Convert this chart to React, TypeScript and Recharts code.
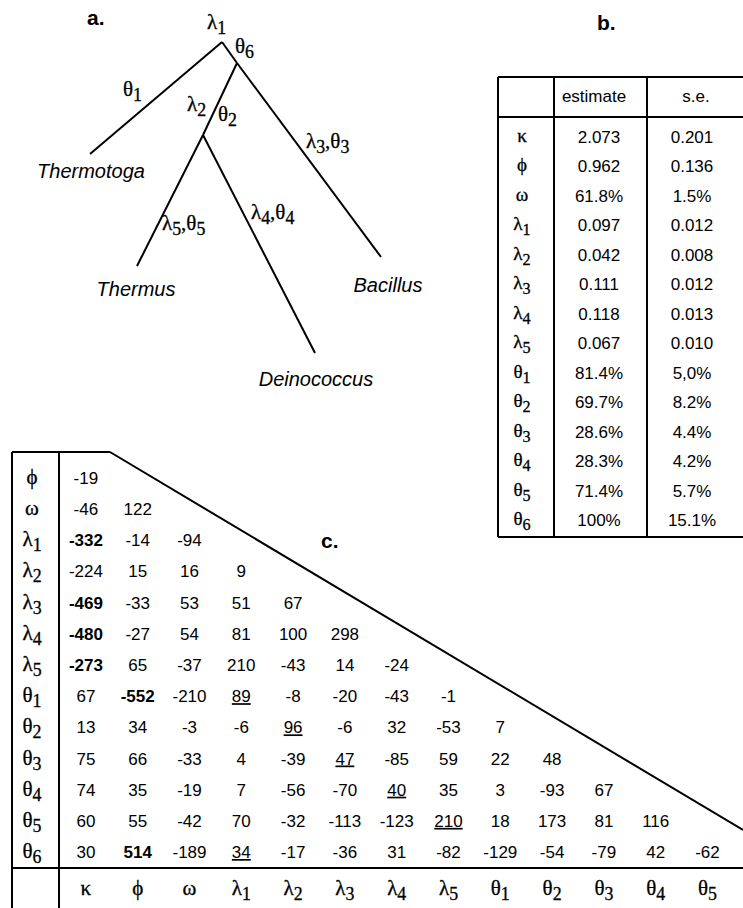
import React from "react";
import { ScatterChart, Scatter, XAxis, YAxis } from "recharts";

const W = 743;
const H = 908;
const SANS = "'Liberation Sans', Arial, Helvetica, sans-serif";
const SERIF = "'Liberation Serif', 'Times New Roman', serif";

// ---- a. tree (node positions in the tree's own drawing units)
const treeNodes = ["root", "n6", "n2", "Thermotoga", "Thermus", "Deinococcus", "Bacillus"];
const treeNodeX = [222, 237, 203, 90, 137, 315, 381];
const treeNodeY = [42, 63, 135, 154, 266, 353, 257];
const treeEdges = [
  ["root", "Thermotoga"],
  ["root", "n6"],
  ["n6", "Bacillus"],
  ["n6", "n2"],
  ["n2", "Thermus"],
  ["n2", "Deinococcus"],
];
const taxa = ["Thermotoga", "Thermus", "Deinococcus", "Bacillus"];
const branchLabels = ["λ1", "θ6", "θ1", "λ2", "θ2", "λ3,θ3", "λ4,θ4", "λ5,θ5"];

// ---- b. estimates table
const paramsB = ["κ", "ϕ", "ω", "λ1", "λ2", "λ3", "λ4", "λ5", "θ1", "θ2", "θ3", "θ4", "θ5", "θ6"];
const tableBColumns = ["estimate", "s.e."];
const estimates = ["2.073", "0.962", "61.8%", "0.097", "0.042", "0.111", "0.118", "0.067", "81.4%", "69.7%", "28.6%", "28.3%", "71.4%", "100%"];
const standardErrors = ["0.201", "0.136", "1.5%", "0.012", "0.008", "0.012", "0.013", "0.010", "5,0%", "8.2%", "4.4%", "4.2%", "5.7%", "15.1%"];

// ---- c. correlation matrix (lower triangle)
const corrRows = ["ϕ", "ω", "λ1", "λ2", "λ3", "λ4", "λ5", "θ1", "θ2", "θ3", "θ4", "θ5", "θ6"];
const corrCols = ["κ", "ϕ", "ω", "λ1", "λ2", "λ3", "λ4", "λ5", "θ1", "θ2", "θ3", "θ4", "θ5"];
const corrValues = [
  [-19],
  [-46, 122],
  [-332, -14, -94],
  [-224, 15, 16, 9],
  [-469, -33, 53, 51, 67],
  [-480, -27, 54, 81, 100, 298],
  [-273, 65, -37, 210, -43, 14, -24],
  [67, -552, -210, 89, -8, -20, -43, -1],
  [13, 34, -3, -6, 96, -6, 32, -53, 7],
  [75, 66, -33, 4, -39, 47, -85, 59, 22, 48],
  [74, 35, -19, 7, -56, -70, 40, 35, 3, -93, 67],
  [60, 55, -42, 70, -32, -113, -123, 210, 18, 173, 81, 116],
  [30, 514, -189, 34, -17, -36, 31, -82, -129, -54, -79, 42, -62],
];
const boldCells = [[2, 0], [4, 0], [5, 0], [6, 0], [7, 1], [12, 1]];
const underlinedCells = [[7, 3], [8, 4], [9, 5], [10, 6], [11, 7], [12, 3]];

// layout of annotations in panel a
const BRANCH_LABEL_POS: Record<string, [number, number]> = {
  "λ1": [207, 29],
  "θ6": [235, 53],
  "θ1": [123, 96],
  "λ2": [187, 111],
  "θ2": [218, 121],
  "λ3,θ3": [306, 148],
  "λ4,θ4": [251, 219],
  "λ5,θ5": [162, 230],
};
const TAXON_OFFSET: Record<string, [number, number]> = {
  Thermotoga: [1, 24],
  Thermus: [-1, 30],
  Deinococcus: [1, 33],
  Bacillus: [7, 35],
};

const Greek = ({ text, x, y, size = 17, anchor = "middle" }: any) => {
  const groups: { s: string; sub: boolean }[] = [];
  for (const ch of text) {
    const sub = /[0-9]/.test(ch);
    const last = groups[groups.length - 1];
    if (last && last.sub === sub) last.s += ch;
    else groups.push({ s: ch, sub });
  }
  const shift = Math.round(size * 0.25);
  let cur = 0;
  return (
    <text x={x} y={y} textAnchor={anchor} fontFamily={SERIF} fontSize={size} fill="#000" stroke="#000" strokeWidth={0.3}>
      {groups.map((g, i) => {
        const target = g.sub ? shift : 0;
        const dy = target - cur;
        cur = target;
        return (
          <tspan key={i} dy={dy || undefined} fontSize={g.sub ? size * 0.85 : undefined}>
            {g.s}
          </tspan>
        );
      })}
    </text>
  );
};

const nothing = () => <g />;
const nodeIdx = (id: string) => treeNodes.indexOf(id);

const TreePanel = () => {
  const labelData = branchLabels.map((l) => ({ x: BRANCH_LABEL_POS[l][0], y: BRANCH_LABEL_POS[l][1], label: l }));
  const taxaData = taxa.map((t) => ({ x: treeNodeX[nodeIdx(t)], y: treeNodeY[nodeIdx(t)], name: t }));
  return (
    <ScatterChart width={W} height={H} margin={{ top: 0, right: 0, bottom: 0, left: 0 }}>
      <XAxis type="number" dataKey="x" domain={[0, W]} hide height={0} />
      <YAxis type="number" dataKey="y" domain={[0, H]} reversed hide width={0} />
      {treeEdges.map(([a, b]) => (
        <Scatter
          key={a + b}
          data={[
            { x: treeNodeX[nodeIdx(a)], y: treeNodeY[nodeIdx(a)] },
            { x: treeNodeX[nodeIdx(b)], y: treeNodeY[nodeIdx(b)] },
          ]}
          line={{ stroke: "#000", strokeWidth: 2 }}
          shape={nothing}
          isAnimationActive={false}
        />
      ))}
      <Scatter
        data={labelData}
        isAnimationActive={false}
        shape={(p: any) => <Greek text={p.payload.label} x={p.cx} y={p.cy} size={21} anchor="start" />}
      />
      <Scatter
        data={taxaData}
        isAnimationActive={false}
        shape={(p: any) => {
          const off = TAXON_OFFSET[p.payload.name];
          return (
            <text x={p.cx + off[0]} y={p.cy + off[1]} textAnchor="middle" fontFamily={SANS} fontStyle="italic" fontSize={20} fill="#000">
              {p.payload.name}
            </text>
          );
        }}
      />
    </ScatterChart>
  );
};

const TablePanel = () => {
  const cells = paramsB.flatMap((_, r) => [
    { col: 0, row: r, text: estimates[r] },
    { col: 1, row: r, text: standardErrors[r] },
  ]);
  return (
    <ScatterChart width={W} height={H} margin={{ top: 77, right: 4.5, bottom: 373.3, left: 498 }}>
      <XAxis
        type="number"
        dataKey="col"
        orientation="top"
        domain={[-0.5, 1.5]}
        ticks={[0, 1]}
        interval={0}
        height={45.3}
        axisLine={false}
        tickLine={false}
        tick={(p: any) => (
          <text x={p.x + (p.payload.value === 0 ? -5 : 4)} y={102} textAnchor="middle" fontFamily={SANS} fontSize={17} fill="#000">
            {tableBColumns[p.payload.value]}
          </text>
        )}
      />
      <YAxis
        type="number"
        dataKey="row"
        domain={[-0.5, 13.5]}
        reversed
        ticks={paramsB.map((_, i) => i)}
        interval={0}
        width={54.5}
        axisLine={false}
        tickLine={false}
        tick={(p: any) => <Greek text={paramsB[p.payload.value]} x={522} y={p.y + 5} size={19} />}
      />
      <Scatter
        data={cells}
        isAnimationActive={false}
        shape={(p: any) => (
          <text x={p.cx} y={p.cy + 6} textAnchor="middle" fontFamily={SANS} fontSize={17} fill="#000">
            {p.payload.text}
          </text>
        )}
      />
    </ScatterChart>
  );
};

const isIn = (list: number[][], r: number, c: number) => list.some(([a, b]) => a === r && b === c);

const MatrixPanel = () => {
  const cells = corrValues.flatMap((vals, r) =>
    vals.map((v, c) => ({ row: r, col: c, value: v, bold: isIn(boldCells, r, c), under: isIn(underlinedCells, r, c) }))
  );
  return (
    <ScatterChart width={W} height={H} margin={{ top: 462.4, right: 9.6, bottom: 0, left: 0 }}>
      <XAxis
        type="number"
        dataKey="col"
        domain={[-0.5, 12.5]}
        ticks={corrCols.map((_, i) => i)}
        interval={0}
        height={40.4}
        axisLine={false}
        tickLine={false}
        tick={(p: any) => <Greek text={corrCols[p.payload.value]} x={p.x} y={895} size={21} />}
      />
      <YAxis
        type="number"
        dataKey="row"
        domain={[-0.5, 12.5]}
        reversed
        ticks={corrRows.map((_, i) => i)}
        interval={0}
        width={60}
        axisLine={false}
        tickLine={false}
        tick={(p: any) => <Greek text={corrRows[p.payload.value]} x={32} y={p.y + 6} size={21} />}
      />
      <Scatter
        data={cells}
        isAnimationActive={false}
        shape={(p: any) => (
          <text
            x={p.cx}
            y={p.cy + 6}
            textAnchor="middle"
            fontFamily={SANS}
            fontSize={17}
            fontWeight={p.payload.bold ? "bold" : "normal"}
            style={p.payload.under ? { textDecoration: "underline" } : undefined}
            fill="#000"
          >
            {p.payload.value}
          </text>
        )}
      />
    </ScatterChart>
  );
};

const Frames = () => (
  <svg width={W} height={H} style={{ position: "absolute", left: 0, top: 0, pointerEvents: "none" }}>
    <g stroke="#000" strokeWidth={2} fill="none">
      {/* b. table rules */}
      <line x1={498} y1={77} x2={W} y2={77} />
      <line x1={498} y1={117} x2={W} y2={117} />
      <line x1={498} y1={537} x2={W} y2={537} />
      <line x1={498} y1={77} x2={498} y2={537} />
      <line x1={554} y1={77} x2={554} y2={537} />
      <line x1={647} y1={77} x2={647} y2={537} />
      {/* c. matrix rules */}
      <line x1={12} y1={452} x2={12} y2={H} />
      <line x1={59} y1={452} x2={59} y2={H} />
      <line x1={12} y1={452} x2={110} y2={452} />
      <line x1={110} y1={452} x2={W} y2={830} />
      <line x1={12} y1={868} x2={W} y2={868} />
    </g>
    <g fontFamily={SANS} fontWeight="bold" fontSize={21} fill="#000">
      <text x={87} y={25}>a.</text>
      <text x={597} y={30}>b.</text>
      <text x={321} y={548}>c.</text>
    </g>
  </svg>
);

export default function App() {
  const layer: React.CSSProperties = { position: "absolute", left: 0, top: 0 };
  return (
    <div style={{ position: "absolute", left: 0, top: 0, width: W, height: H, background: "#fff", overflow: "hidden" }}>
      <div style={layer}>
        <TreePanel />
      </div>
      <div style={layer}>
        <TablePanel />
      </div>
      <div style={layer}>
        <MatrixPanel />
      </div>
      <Frames />
    </div>
  );
}
